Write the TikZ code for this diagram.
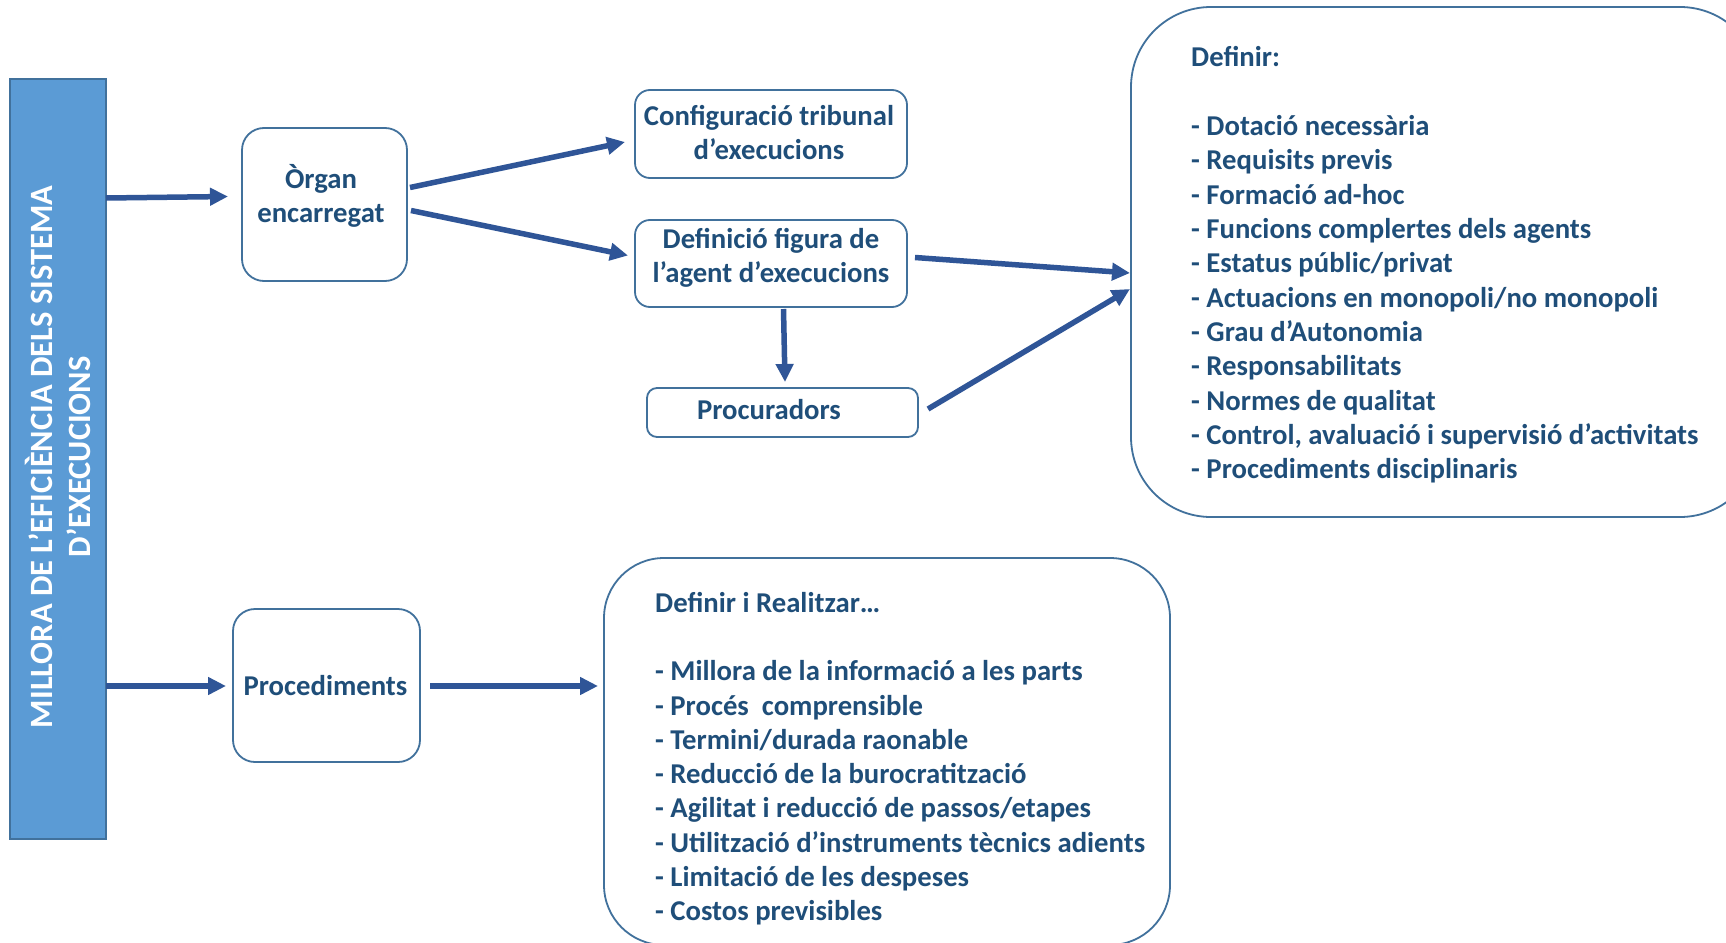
\documentclass[tikz,border=0pt]{standalone}
\usepackage{fontspec}
\setmainfont{Carlito}
\usetikzlibrary{arrows.meta}
\definecolor{barfill}{HTML}{5B9BD5}
\definecolor{barline}{HTML}{41719C}
\definecolor{boxline}{HTML}{41719C}
\definecolor{arrowblue}{HTML}{2F5597}
\definecolor{textblue}{HTML}{1F4E79}
\newcommand{\toprule}{\rule{0pt}{25pt}}
\tikzset{
  panel/.style={draw=boxline, line width=1.8pt, fill=white, inner sep=0pt, outer sep=0pt},
  sidebar/.style={draw=barline, line width=1.8pt, fill=barfill, inner sep=0pt, outer sep=0pt},
  boxtext/.style={text=textblue, font=\bfseries\fontsize{28.7}{34}\selectfont, align=center, inner sep=0pt},
  listtext/.style={text=textblue, font=\bfseries\fontsize{28.7}{34.3}\selectfont, align=left,
    inner sep=0pt, anchor=north west},
  link/.style={draw=arrowblue, line width=5.5pt, -{Triangle[length=18pt,width=17pt]}},
}
\begin{document}
\begin{tikzpicture}[x=1pt,y=-1pt]
\useasboundingbox (0,0) rectangle (1726,942);
\clip (0,0) rectangle (1726,942);
\fill[white] (0,0) rectangle (1726,942);

% side bar with the title
\node[sidebar, minimum width=96pt, minimum height=760pt] (bar) at (58,459) {};
\node[rotate=90, text=white, font=\bfseries\fontsize{32.5}{38.5}\selectfont, align=center, inner sep=0pt]
  (bartitle) at (58,457) {MILLORA DE L’EFICIÈNCIA DELS SISTEMA\\D’EXECUCIONS};

% upper branch
\node[panel, rounded corners=22pt, minimum width=165pt, minimum height=153pt] (organ) at (324.5,204.5) {};
\node[boxtext] (organtxt) at (321,196) {Òrgan\\encarregat};

\node[panel, rounded corners=15pt, minimum width=272pt, minimum height=88pt] (config) at (771,134) {};
\node[boxtext] (configtxt) at (769,133) {Configuració tribunal\\d’execucions};

\node[panel, rounded corners=15pt, minimum width=272pt, minimum height=87pt] (agent) at (771,263.5) {};
\node[boxtext] (agenttxt) at (771,258) {Definició figura de\\l’agent d’execucions};

\node[panel, rounded corners=10pt, minimum width=271pt, minimum height=49pt] (procu) at (782.5,412.5) {};
\node[boxtext] (procutxt) at (769,409.5) {Procuradors};

\node[panel, rounded corners=80pt, minimum width=629pt, minimum height=510pt] (definir) at (1445.5,262) {};
\node[listtext] (definirtxt) at (1191,41.5) {\toprule Definir:\\[34.6pt]
- Dotació necessària\\
- Requisits previs\\
- Formació ad-hoc\\
- Funcions complertes dels agents\\
- Estatus públic/privat\\
- Actuacions en monopoli/no monopoli\\
- Grau d’Autonomia\\
- Responsabilitats\\
- Normes de qualitat\\
- Control, avaluació i supervisió d’activitats\\
- Procediments disciplinaris};

% lower branch
\node[panel, rounded corners=22pt, minimum width=187pt, minimum height=153pt] (proc) at (326.5,685.5) {};
\node[boxtext] (proctxt) at (325.5,685.5) {Procediments};

\node[panel, rounded corners=60pt, minimum width=566pt, minimum height=387pt] (realitzar) at (887,751.5) {};
\node[listtext] (realitzartxt) at (655,587) {\toprule Definir i Realitzar…\\[34.2pt]
- Millora de la informació a les parts\\
- Procés \ comprensible\\
- Termini/durada raonable\\
- Reducció de la burocratització\\
- Agilitat i reducció de passos/etapes\\
- Utilització d’instruments tècnics adients\\
- Limitació de les despeses\\
- Costos previsibles};

% connectors
\draw[link] ([shift={(0,-261)}]bar.east) -- ([shift={(-14,-8)}]organ.west);
\draw[link] ([shift={(3,-17)}]organ.east) -- ([shift={(-10,8)}]config.west);
\draw[link] ([shift={(4,6)}]organ.east) -- ([shift={(-7,-8)}]agent.west);
\draw[link] ([shift={(12.5,2)}]agent.south) -- ([shift={(2.5,-6)}]procu.north);
\draw[link] ([shift={(8,-6)}]agent.east) -- ([shift={(-1,11)}]definir.west);
\draw[link] ([shift={(10,-3.5)}]procu.east) -- ([shift={(-1,27)}]definir.west);
\draw[link] ([shift={(0,227)}]bar.east) -- ([shift={(-7,0.5)}]proc.west);
\draw[link] ([shift={(10,0.5)}]proc.east) -- ([shift={(-6,-65.5)}]realitzar.west);
\end{tikzpicture}
\end{document}
